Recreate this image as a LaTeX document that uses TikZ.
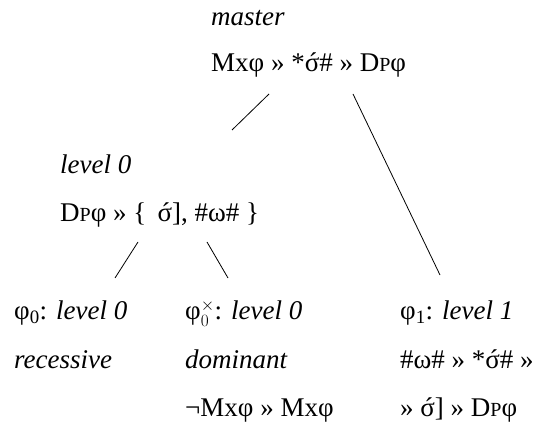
\documentclass[tikz,border=0pt]{standalone}
\usepackage{fontspec}
\setmainfont{Liberation Serif}
\usetikzlibrary{calc}
\newcommand{\smc}[1]{{\fontsize{20}{20}\selectfont #1}}
\newcommand{\sigac}{{\setbox0\hbox{σ}\rlap{σ}\hbox to\wd0{\hss\kern0.08em´\hss}}}
\begin{document}
\begin{tikzpicture}[x=1pt,y=1pt,
  txt/.style={anchor=base west,inner sep=0pt,font=\fontsize{27}{30}\selectfont},
  conn/.style={line width=0.8pt}]
\useasboundingbox (0,0) rectangle (554,423);
% master
\node[txt] (mlab) at (211,397) {\textit{master}};
\node[txt] (mtxt) at (211,351) {Mxφ » *\sigac\# » D\smc{P}φ};
% level 0
\node[txt] (llab) at (60,249) {\textit{level 0}};
\node[txt] (ltxt) at (60,201) {D\smc{P}φ » \{\, \sigac], \#ω\# \}};
% phi0
\node[txt] (alab) at (14,103) {φ\textsubscript{0}: \textit{level 0}};
\node[txt] (atxt) at (14,55) {\textit{recessive}};
% phi0x
\node[txt] (blab) at (185,103) {φ$^{\times}_{0}$: \textit{level 0}};
\node[txt] (btxt) at (185,55) {\textit{dominant}};
\node[txt] (bexp) at (185,7) {¬Mxφ » Mxφ};
% phi1
\node[txt] (clab) at (400,103) {φ\textsubscript{1}: \textit{level 1}};
\node[txt] (ctxt) at (400,55) {\#ω\# » *\sigac\# »};
\node[txt] (cexp) at (400,7) {» \sigac] » D\smc{P}φ};
% connector ends
\coordinate (m1) at (269,329);
\coordinate (m2) at (353,329);
\coordinate (l0) at (232,293);
\coordinate (p1) at (440,148);
\coordinate (l1) at (138,181);
\coordinate (l2) at (207,181);
\coordinate (a0) at (115,145);
\coordinate (b0) at (228,145);
\draw[conn] (m1) -- (l0);
\draw[conn] (m2) -- (p1);
\draw[conn] (l1) -- (a0);
\draw[conn] (l2) -- (b0);
\end{tikzpicture}
\end{document}
